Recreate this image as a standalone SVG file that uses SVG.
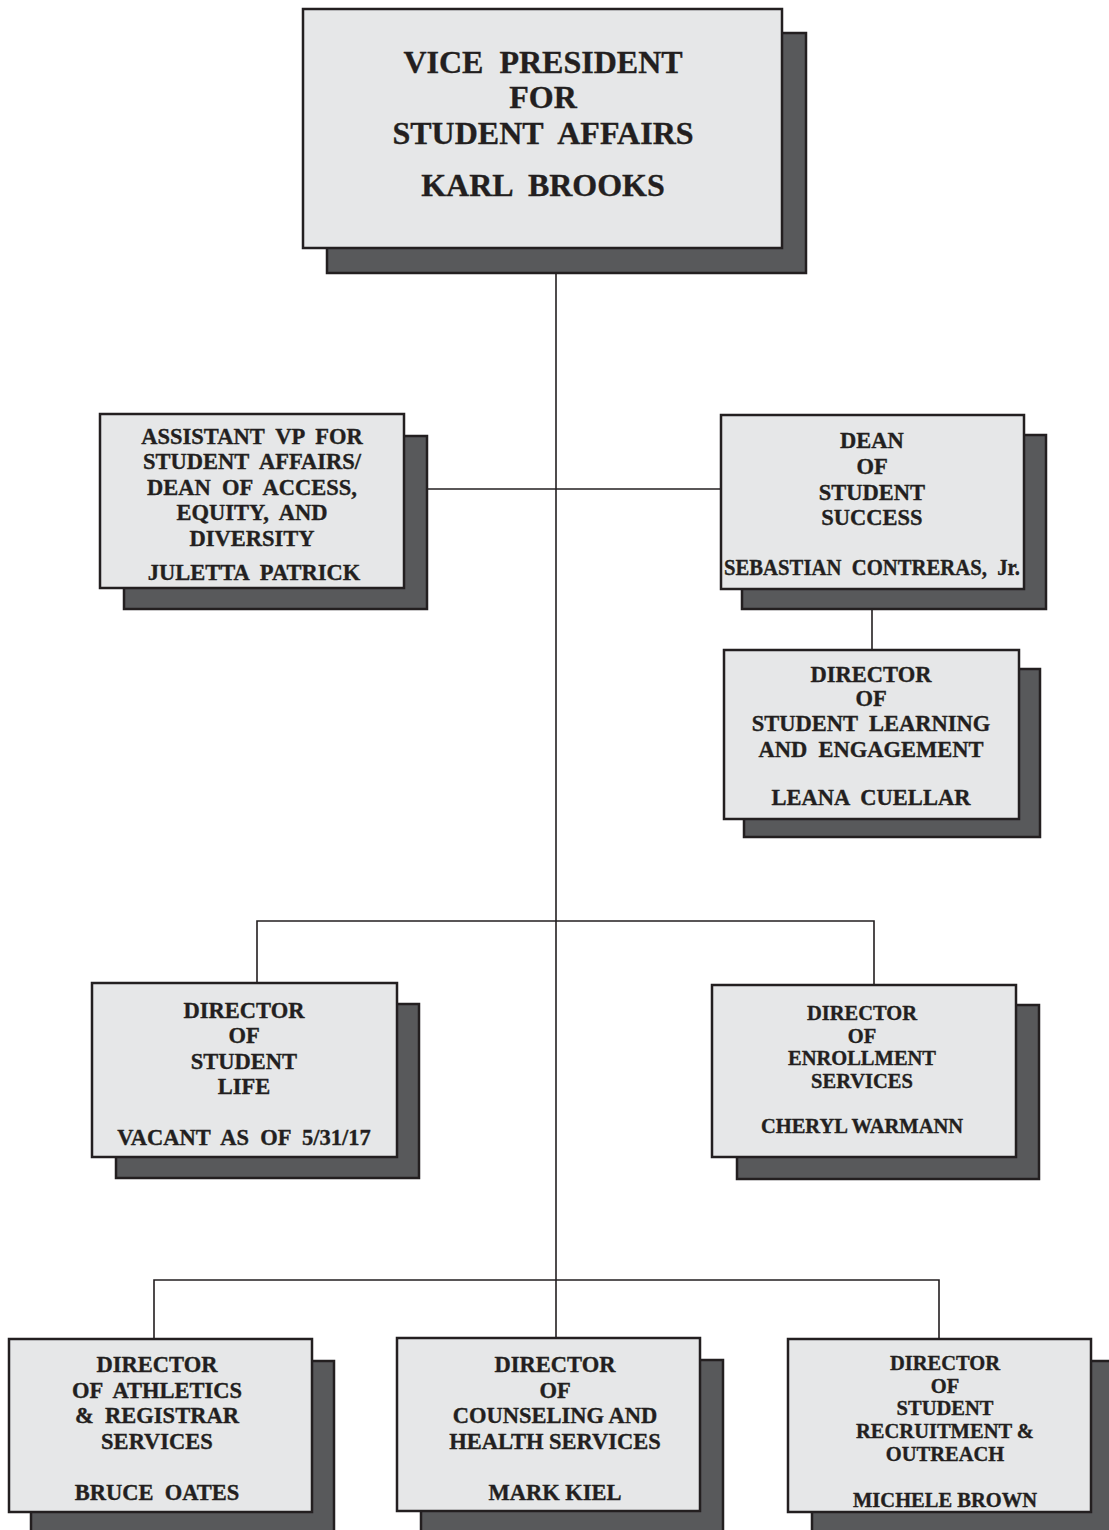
<svg xmlns="http://www.w3.org/2000/svg" width="1109" height="1530" viewBox="0 0 1109 1530" xml:space="preserve">
  <style>
    .bg { fill: #ffffff; }
    .shadow { fill: #58595b; stroke: #231f20; stroke-width: 2.5; }
    .box { fill: #e6e7e8; stroke: #231f20; stroke-width: 2.5; }
    .link { fill: none; stroke: #231f20; stroke-width: 1.6; }
    text { font-family: "Liberation Serif", "Times New Roman", serif; font-weight: bold; fill: #231f20; stroke: #231f20; stroke-width: 0.35; text-anchor: middle; white-space: pre; }
    .t32 { font-size: 32px; }
    .t22 { font-size: 22.5px; }
    .t20 { font-size: 20.5px; }
  </style>
  <rect class="bg" x="0" y="0" width="1109" height="1530"/>

  <!-- reporting lines -->
  <g id="connectors">
    <path class="link" d="M556 273 V1339"/>
    <path class="link" d="M404 489 H721"/>
    <path class="link" d="M872 609 V650"/>
    <path class="link" d="M257 983 V921 H874 V985"/>
    <path class="link" d="M154 1339 V1280 H939 V1339"/>
  </g>

  <g id="vp">
    <rect class="shadow" x="327" y="33" width="479" height="240"/>
    <rect class="box" x="303" y="9" width="479" height="239"/>
    <text class="t32" x="543" y="73">VICE  PRESIDENT</text>
    <text class="t32" x="543" y="108">FOR</text>
    <text class="t32" x="543" y="144">STUDENT  AFFAIRS</text>
    <text class="t32" x="543" y="196">KARL  BROOKS</text>
  </g>

  <g id="avp-access-equity">
    <rect class="shadow" x="124" y="436" width="303" height="173"/>
    <rect class="box" x="100" y="414" width="304" height="174"/>
    <text class="t22" x="252" y="444">ASSISTANT  VP  FOR</text>
    <text class="t22" x="252" y="469">STUDENT  AFFAIRS/</text>
    <text class="t22" x="252" y="495">DEAN  OF  ACCESS,</text>
    <text class="t22" x="252" y="520">EQUITY,  AND</text>
    <text class="t22" x="252" y="546">DIVERSITY</text>
    <text class="t22" x="254" y="580">JULETTA  PATRICK</text>
  </g>

  <g id="dean-student-success">
    <rect class="shadow" x="742" y="435" width="304" height="174"/>
    <rect class="box" x="721" y="415" width="303" height="174"/>
    <text class="t22" x="872" y="448">DEAN</text>
    <text class="t22" x="872" y="474">OF</text>
    <text class="t22" x="872" y="500">STUDENT</text>
    <text class="t22" x="872" y="525">SUCCESS</text>
    <text class="t22" x="872" y="575" textLength="296" lengthAdjust="spacingAndGlyphs">SEBASTIAN  CONTRERAS,  Jr.</text>
  </g>

  <g id="dir-learning-engagement">
    <rect class="shadow" x="744" y="669" width="296" height="168"/>
    <rect class="box" x="724" y="650" width="295" height="169"/>
    <text class="t22" x="871" y="682">DIRECTOR</text>
    <text class="t22" x="871" y="706">OF</text>
    <text class="t22" x="871" y="731">STUDENT  LEARNING</text>
    <text class="t22" x="871" y="757">AND  ENGAGEMENT</text>
    <text class="t22" x="871" y="805">LEANA  CUELLAR</text>
  </g>

  <g id="dir-student-life">
    <rect class="shadow" x="116" y="1004" width="303" height="174"/>
    <rect class="box" x="92" y="983" width="305" height="174"/>
    <text class="t22" x="244" y="1018">DIRECTOR</text>
    <text class="t22" x="244" y="1043">OF</text>
    <text class="t22" x="244" y="1069">STUDENT</text>
    <text class="t22" x="244" y="1094">LIFE</text>
    <text class="t22" x="244" y="1145">VACANT  AS  OF  5/31/17</text>
  </g>

  <g id="dir-enrollment">
    <rect class="shadow" x="737" y="1005" width="302" height="174"/>
    <rect class="box" x="712" y="985" width="304" height="172"/>
    <text class="t20" x="862" y="1020">DIRECTOR</text>
    <text class="t20" x="862" y="1043">OF</text>
    <text class="t20" x="862" y="1065">ENROLLMENT</text>
    <text class="t20" x="862" y="1088">SERVICES</text>
    <text class="t20" x="862" y="1133">CHERYL WARMANN</text>
  </g>

  <g id="dir-athletics-registrar">
    <rect class="shadow" x="31" y="1361" width="303" height="175"/>
    <rect class="box" x="9" y="1339" width="303" height="173"/>
    <text class="t22" x="157" y="1372">DIRECTOR</text>
    <text class="t22" x="157" y="1398">OF  ATHLETICS</text>
    <text class="t22" x="157" y="1423">&amp;  REGISTRAR</text>
    <text class="t22" x="157" y="1449">SERVICES</text>
    <text class="t22" x="157" y="1500">BRUCE  OATES</text>
  </g>

  <g id="dir-counseling-health">
    <rect class="shadow" x="421" y="1360" width="302" height="176"/>
    <rect class="box" x="397" y="1338" width="303" height="173"/>
    <text class="t22" x="555" y="1372">DIRECTOR</text>
    <text class="t22" x="555" y="1398">OF</text>
    <text class="t22" x="555" y="1423">COUNSELING AND</text>
    <text class="t22" x="555" y="1449">HEALTH SERVICES</text>
    <text class="t22" x="555" y="1500">MARK KIEL</text>
  </g>

  <g id="dir-recruitment-outreach">
    <rect class="shadow" x="812" y="1361" width="300" height="175"/>
    <rect class="box" x="788" y="1339" width="303" height="173"/>
    <text class="t20" x="945" y="1370">DIRECTOR</text>
    <text class="t20" x="945" y="1393">OF</text>
    <text class="t20" x="945" y="1415">STUDENT</text>
    <text class="t20" x="945" y="1438">RECRUITMENT &amp;</text>
    <text class="t20" x="945" y="1461">OUTREACH</text>
    <text class="t20" x="945" y="1507">MICHELE BROWN</text>
  </g>
</svg>
